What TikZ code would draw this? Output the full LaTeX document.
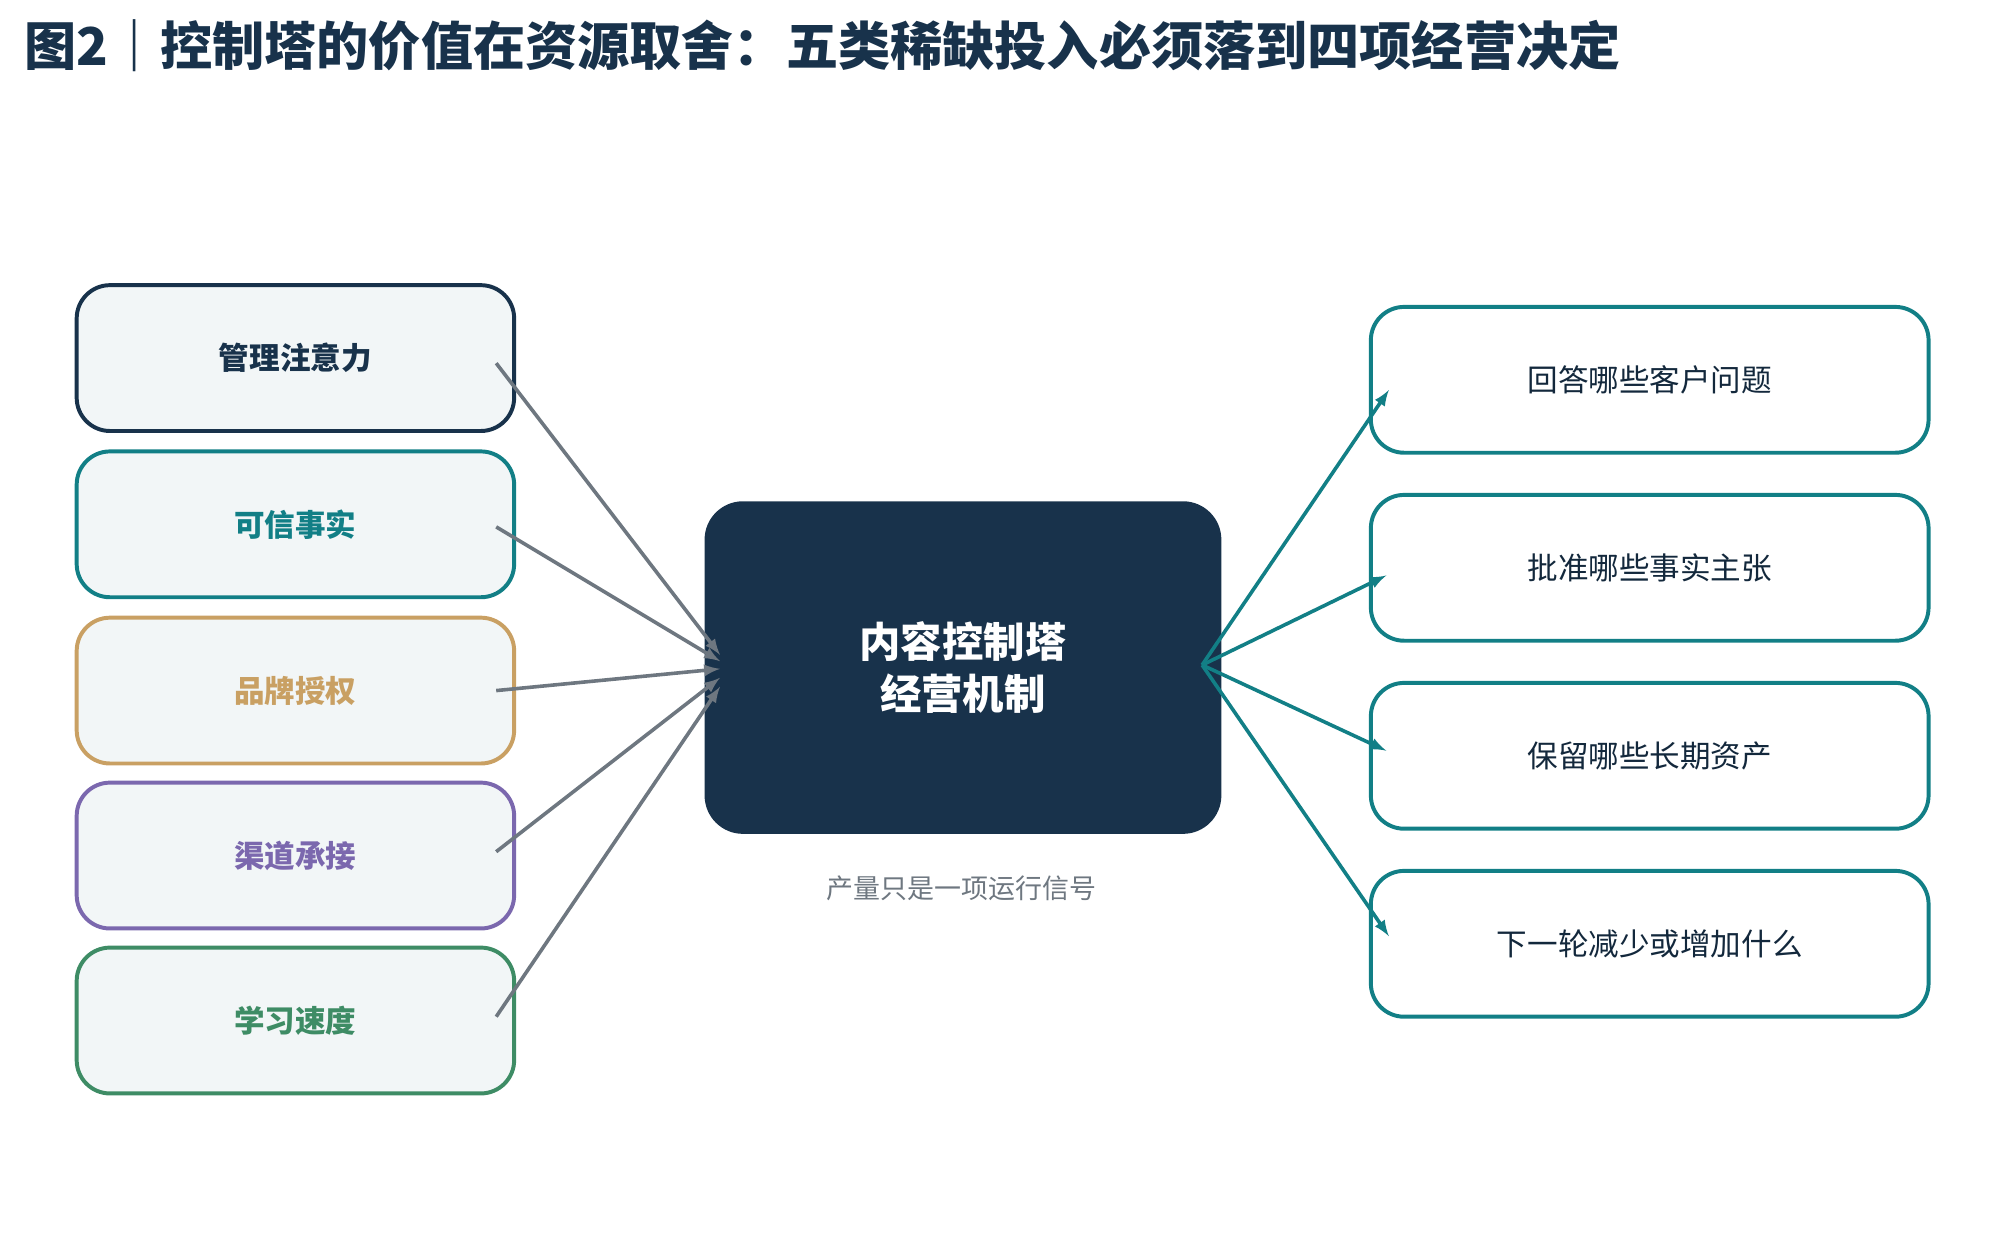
\documentclass[tikz,border=0pt]{standalone}
\usepackage{fontspec}
\setmainfont{Noto Sans CJK SC}
\usetikzlibrary{positioning}
\definecolor{navy}{HTML}{18324B}
\definecolor{teal}{HTML}{127F86}
\definecolor{gold}{HTML}{C9A063}
\definecolor{purp}{HTML}{7B68AE}
\definecolor{grn}{HTML}{3E8C65}
\definecolor{lgray}{HTML}{F2F6F7}
\definecolor{dgray}{HTML}{6E7780}
\tikzset{
 inbox/.style={draw=#1,line width=2.2pt,fill=lgray,rounded corners=0.65cm,minimum width=8.55cm,minimum height=2.85cm,text=#1,font=\bfseries\fontsize{17}{20}\selectfont},
 outbox/.style={draw=teal,line width=2.2pt,fill=white,rounded corners=0.65cm,minimum width=10.9cm,minimum height=2.85cm,text=navy!80!black,font=\fontsize{17}{20}\selectfont},
 inarr/.style={draw=dgray,line width=2pt,-latex},
 outarr/.style={draw=teal,line width=2pt,-latex}
}
\begin{document}
\begin{tikzpicture}[x=0.025cm,y=-0.025cm]
 \useasboundingbox (0,0) rectangle (1560,967);
 \node[anchor=west,text=navy,font=\bfseries\fontsize{29}{34}\selectfont] (title) at (14,36) {图2｜控制塔的价值在资源取舍：五类稀缺投入必须落到四项经营决定};
 % inputs
 \node[inbox=navy] (in1) at (231,280) {管理注意力};
 \node[inbox=teal] (in2) at (231,410) {可信事实};
 \node[inbox=gold] (in3) at (231,540) {品牌授权};
 \node[inbox=purp] (in4) at (231,669) {渠道承接};
 \node[inbox=grn] (in5) at (231,798) {学习速度};
 % center
 \node[fill=navy,rounded corners=0.75cm,minimum width=10.1cm,minimum height=6.5cm,text=white,align=center,font=\bfseries\fontsize{23}{29}\selectfont] (core) at (753,522) {内容控制塔\\经营机制};
 \node[text=dgray,font=\fontsize{15}{18}\selectfont] (note) at (752,695) {产量只是一项运行信号};
 % outputs
 \node[outbox] (out1) at (1290,297) {回答哪些客户问题};
 \node[outbox] (out2) at (1290,444) {批准哪些事实主张};
 \node[outbox] (out3) at (1290,591) {保留哪些长期资产};
 \node[outbox] (out4) at (1290,738) {下一轮减少或增加什么};
 % arrow ends
 \foreach \i/\y in {1/284,2/412,3/540,4/666,5/795}
  \coordinate (s\i) at (388,\y);
 \foreach \i/\y in {1/512,2/517,3/523,4/530,5/537}
  \coordinate (e\i) at (563,\y);
 \foreach \i in {1,...,5}
  \draw[inarr] (s\i) -- (e\i);
 \coordinate (hub) at (940,520);
 \coordinate (t1) at (1086,305);
 \coordinate (t2) at (1084,450);
 \coordinate (t3) at (1084,587);
 \coordinate (t4) at (1086,732);
 \foreach \i in {1,...,4}
  \draw[outarr] (hub) -- (t\i);
\end{tikzpicture}
\end{document}
